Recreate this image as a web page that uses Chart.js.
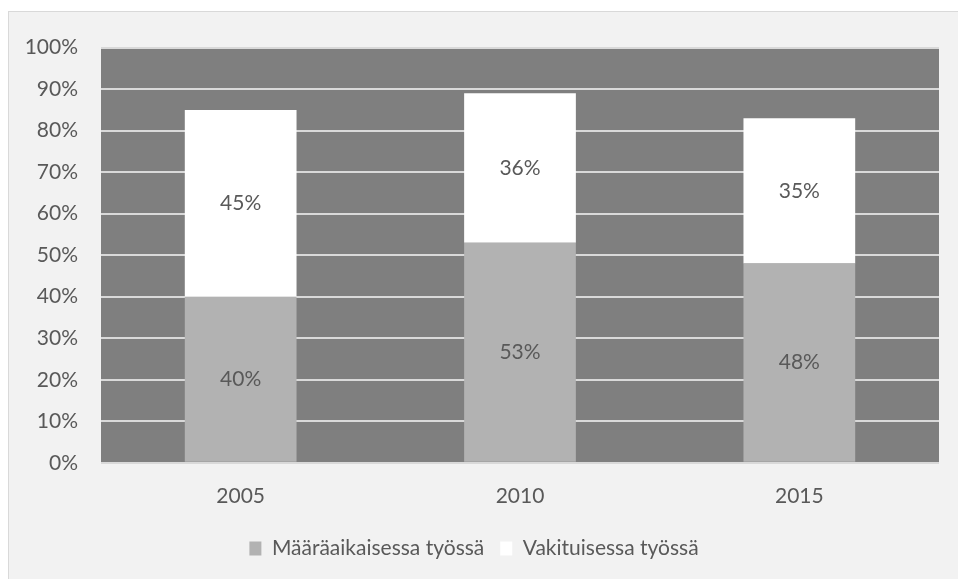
<!DOCTYPE html>
<html>
<head>
<meta charset="utf-8">
<script src="https://cdn.jsdelivr.net/npm/chart.js@4"></script>
<style>
  html, body { margin: 0; padding: 0; background: #ffffff; overflow: hidden; }
  .frame {
    position: absolute; left: 8px; top: 11px;
    width: 960px; height: 580px;
    border: 1px solid #d9d9d9; background: #f2f2f2;
  }
  .frame canvas { position: absolute; left: 0; top: 0; }
</style>
</head>
<body>
<div class="frame"><canvas id="chart" width="949" height="567"></canvas></div>
<script>
const years = ['2005', '2010', '2015'];
const fixedTerm = [40, 53, 48];
const permanent = [45, 36, 35];
const seriesNames = ['Määräaikaisessa työssä', 'Vakituisessa työssä'];

const textColor = '#595959';
const fontFamily = 'Lato, "Open Sans", sans-serif';
const fontSize = 21;

// harmaa piirtoalue ennen ruudukkoa
const plotBg = {
  id: 'plotBg',
  beforeDraw(chart) {
    const { ctx, chartArea: a } = chart;
    ctx.save();
    ctx.fillStyle = '#7f7f7f';
    ctx.fillRect(a.left, a.top, a.right - a.left, a.bottom - a.top);
    ctx.restore();
  },
};

// prosenttiluvut palkkien keskelle
const segLabels = {
  id: 'segLabels',
  afterDatasetsDraw(chart) {
    const { ctx } = chart;
    ctx.save();
    ctx.fillStyle = textColor;
    ctx.font = `${fontSize}px ${fontFamily}`;
    ctx.textAlign = 'center';
    ctx.textBaseline = 'middle';
    chart.data.datasets.forEach((ds, i) => {
      chart.getDatasetMeta(i).data.forEach((el, j) => {
        ctx.fillText(ds.data[j] + '%', el.x, (el.y + el.base) / 2);
      });
    });
    ctx.restore();
  },
};

new Chart(document.getElementById('chart'), {
  type: 'bar',
  data: {
    labels: years,
    datasets: [
      { label: seriesNames[0], data: fixedTerm, backgroundColor: '#b2b2b2' },
      { label: seriesNames[1], data: permanent, backgroundColor: '#ffffff' },
    ],
  },
  plugins: [plotBg, segLabels],
  options: {
    responsive: false,
    animation: false,
    layout: { padding: { top: 29, right: 19, left: 0, bottom: 10 } },
    datasets: { bar: { categoryPercentage: 0.4, barPercentage: 1 } },
    plugins: {
      tooltip: { enabled: false },
      legend: {
        position: 'bottom',
        labels: {
          color: textColor,
          font: { family: fontFamily, size: fontSize },
          boxWidth: 12,
          boxHeight: 14,
          padding: 16,
          useBorderRadius: false,
        },
      },
    },
    scales: {
      x: {
        stacked: true,
        grid: { display: false },
        border: { display: false },
        ticks: { color: textColor, font: { family: fontFamily, size: fontSize }, padding: 13 },
      },
      y: {
        stacked: true,
        min: 0,
        max: 100,
        afterFit(scale) { scale.width = 92; },
        grid: { color: '#d9d9d9', lineWidth: 2, drawTicks: false },
        border: { display: false },
        ticks: {
          stepSize: 10,
          color: textColor,
          font: { family: fontFamily, size: fontSize },
          padding: 23,
          callback: (v) => v + '%',
        },
      },
    },
  },
});
</script>
</body>
</html>
